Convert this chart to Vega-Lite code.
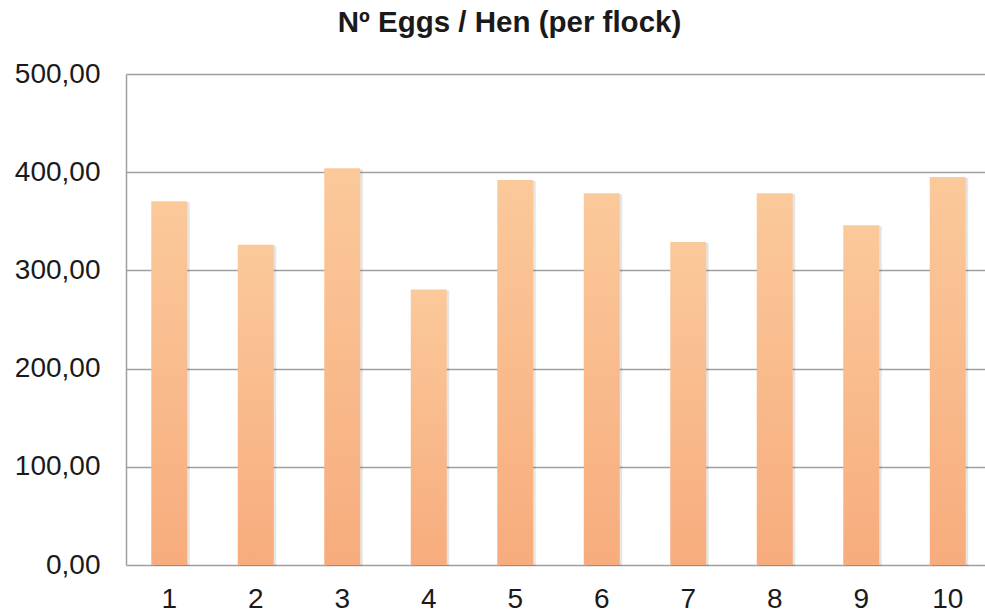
{
  "$schema": "https://vega.github.io/schema/vega-lite/v6.json",
  "width": 865,
  "height": 491,
  "autosize": {"type": "none"},
  "padding": {"left": 126, "top": 74, "right": 0, "bottom": 50},
  "background": "white",
  "title": {
    "text": "Nº Eggs / Hen (per flock)",
    "font": "Liberation Sans",
    "fontSize": 29.5,
    "fontWeight": "bold",
    "color": "#1a1a1a",
    "anchor": "middle",
    "frame": "group",
    "dx": -49,
    "baseline": "alphabetic",
    "offset": -1.5
  },
  "data": {
    "values": [
      {"flock": "1", "eggs": 370.5},
      {"flock": "2", "eggs": 326},
      {"flock": "3", "eggs": 404},
      {"flock": "4", "eggs": 280.5},
      {"flock": "5", "eggs": 392},
      {"flock": "6", "eggs": 378.5},
      {"flock": "7", "eggs": 329},
      {"flock": "8", "eggs": 378.5},
      {"flock": "9", "eggs": 346},
      {"flock": "10", "eggs": 395}
    ]
  },
  "encoding": {
    "x": {
      "field": "flock",
      "type": "ordinal",
      "sort": null,
      "scale": {"paddingInner": 0.584, "paddingOuter": 0.292},
      "axis": {
        "title": null,
        "labelAngle": 0,
        "labelFont": "Liberation Sans",
        "labelFontSize": 28,
        "labelColor": "#1a1a1a",
        "labelPadding": 20,
        "ticks": false,
        "domain": false,
        "grid": false
      }
    },
    "y": {
      "field": "eggs",
      "type": "quantitative",
      "scale": {"domain": [0, 500], "nice": false},
      "axis": {
        "title": null,
        "values": [0, 100, 200, 300, 400, 500],
        "labelExpr": "replace(format(datum.value, '.2f'), '.', ',')",
        "labelFont": "Liberation Sans",
        "labelFontSize": 28,
        "labelColor": "#1a1a1a",
        "labelPadding": 26,
        "ticks": false,
        "domain": true,
        "domainColor": "#a0a0a0",
        "domainWidth": 1.5,
        "grid": true,
        "gridColor": "#a0a0a0",
        "gridWidth": 1.5
      }
    }
  },
  "layer": [
    {
      "mark": {"type": "bar", "color": "#000000", "opacity": 0.1, "xOffset": 2.5, "yOffset": 1}
    },
    {
      "mark": {
        "type": "bar",
        "color": {
          "gradient": "linear",
          "x1": 0, "y1": 0, "x2": 0, "y2": 1,
          "stops": [
            {"offset": 0, "color": "#FBC99A"},
            {"offset": 1, "color": "#F7AC7D"}
          ]
        }
      }
    }
  ],
  "config": {
    "view": {"stroke": null}
  }
}
